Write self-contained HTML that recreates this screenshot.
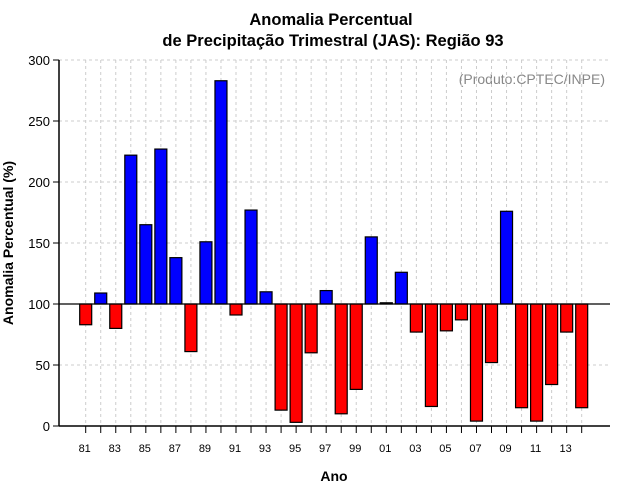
<!DOCTYPE html>
<html><head><meta charset="utf-8"><style>
body{margin:0;background:#fff;}
svg{display:block;font-family:"Liberation Sans",sans-serif;}
</style></head><body>
<svg id="chart" width="640" height="500">
<text x="331" y="25" text-anchor="middle" font-size="16.5" font-weight="bold">Anomalia Percentual</text>
<text x="333" y="46" text-anchor="middle" font-size="16.5" font-weight="bold">de Precipitação Trimestral (JAS): Região 93</text>
<text x="605" y="84" text-anchor="end" font-size="14" fill="#888">(Produto:CPTEC/INPE)</text>
<text x="334" y="481" text-anchor="middle" font-size="14" font-weight="bold">Ano</text>
<text transform="translate(13,243) rotate(-90)" text-anchor="middle" font-size="14" font-weight="bold">Anomalia Percentual (%)</text>
<g id="grid"></g><g id="bars"></g><g id="axes"></g>
</svg>
<script>
const years=[81,82,83,84,85,86,87,88,89,90,91,92,93,94,95,96,97,98,99,0,1,2,3,4,5,6,7,8,9,10,11,12,13,14];
const values=[83,109,80,222,165,227,138,61,151,283,91,177,110,13,3,60,111,10,30,155,101,126,77,16,78,87,4,52,176,15,4,34,77,15];
const yTicks=[0,50,100,150,200,250,300];
const NS="http://www.w3.org/2000/svg";
const L=59,R=610,T=60,B=426;
const yS=v=>B-(v/300)*(B-T);
const xS=i=>85.7+i*15.03;
function mk(t,a,p){const e=document.createElementNS(NS,t);for(const k in a)e.setAttribute(k,a[k]);p.appendChild(e);return e;}
const g=document.getElementById('grid'),b=document.getElementById('bars'),ax=document.getElementById('axes');
yTicks.forEach(v=>{
 if(v>0){const l=mk('line',{x1:L,x2:R,y1:yS(v),y2:yS(v),stroke:'#ccc','stroke-dasharray':'3,3'},g);
 
 }
 const t=mk('line',{x1:L-6,x2:L,y1:yS(v),y2:yS(v),stroke:'#000'},ax);
 
 
 const tx=mk('text',{x:L-9,y:yS(v)+5,'text-anchor':'end','font-size':'13'},ax);tx.textContent=v;
 
 
});
years.forEach((y,i)=>{
 const x=xS(i);
 const l=mk('line',{x1:x,x2:x,y1:T,y2:B,stroke:'#ccc','stroke-dasharray':'3,3'},g);
 
 
 const t=mk('line',{x1:x,x2:x,y1:B,y2:B+7,stroke:'#000'},ax);
 
 
 if(i%2===0){const tx=mk('text',{x:x-1,y:452,'text-anchor':'middle','font-size':'11'},ax);tx.textContent=String(y).padStart(2,'0');
 
 }
 const v=values[i],y0=yS(100),y1=yS(v);
 const r=mk('rect',{x:x-6,y:Math.min(y0,y1),width:12,height:Math.max(1,Math.abs(y1-y0)),fill:v>=100?'#0000ff':'#ff0000',stroke:'#000','stroke-width':1.2},b);
 
 
});
const base=mk('line',{x1:L,x2:R,y1:yS(100),y2:yS(100),stroke:'#000','stroke-width':1.2},ax);


const ya=mk('line',{x1:L,x2:L,y1:T,y2:B,stroke:'#000','stroke-width':1.5},ax);


const xa=mk('line',{x1:L,x2:R,y1:B,y2:B,stroke:'#000','stroke-width':1.5},ax);


</script>
</body></html>
